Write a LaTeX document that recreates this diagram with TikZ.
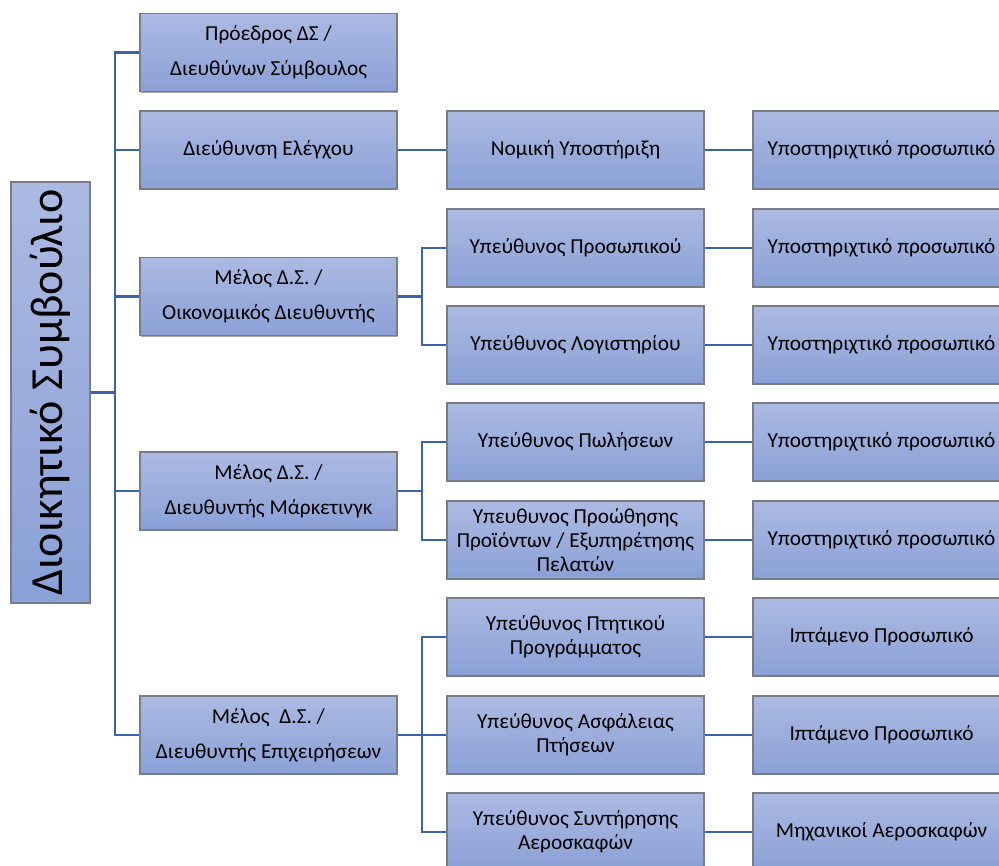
\documentclass[tikz,border=0pt]{standalone}
\usepackage{fontspec}
\setmainfont{Carlito}
\usetikzlibrary{shadows}
\definecolor{boxtop}{RGB}{172,186,226}
\definecolor{boxbot}{RGB}{138,160,214}
\definecolor{boxline}{RGB}{120,124,134}
\definecolor{conncol}{RGB}{58,98,174}
\tikzset{
  orgbox/.style={rectangle, draw=boxline, line width=0.9pt, top color=boxtop, bottom color=boxbot,
    minimum width=192.75pt, minimum height=58.5pt, inner sep=2pt, align=center,
    font=\fontsize{16}{18}\selectfont, text=black,
    drop shadow={shadow xshift=0.8pt, shadow yshift=-0.8pt, opacity=0.35, fill=black}},
  wide/.style={font=\fontsize{16}{26}\selectfont},
  rootbox/.style={orgbox, minimum width=315.75pt, minimum height=59.25pt, rotate=90,
    font=\fontsize{34.5}{38}\selectfont},
  conn/.style={draw=conncol, line width=2pt}
}
\begin{document}
\begin{tikzpicture}[x=0.75pt,y=-0.75pt]
\useasboundingbox (0,0) rectangle (999,866);
\clip (0,0) rectangle (999,866);
% root
\node[rootbox] (root) at (50.5,392.5) {Διοικητικό Συμβούλιο};
% column 1
\node[orgbox,wide] (c11) at (268.5,52.5) {Πρόεδρος ΔΣ /\\Διευθύνων Σύμβουλος};
\node[orgbox] (c12) at (268.5,150) {Διεύθυνση Ελέγχου};
\node[orgbox,wide] (c13) at (268.5,296.5) {Μέλος Δ.Σ. /\\Οικονομικός Διευθυντής};
\node[orgbox,wide] (c14) at (268.5,491) {Μέλος Δ.Σ. /\\Διευθυντής Μάρκετινγκ};
\node[orgbox,wide] (c15) at (268.5,735) {Μέλος\ \ Δ.Σ. /\\Διευθυντής Επιχειρήσεων};
% column 2
\node[orgbox] (c21) at (575.5,150) {Νομική Υποστήριξη};
\node[orgbox] (c22) at (575.5,248) {Υπεύθυνος Προσωπικού};
\node[orgbox] (c23) at (575.5,345) {Υπεύθυνος Λογιστηρίου};
\node[orgbox] (c24) at (575.5,442) {Υπεύθυνος Πωλήσεων};
\node[orgbox] (c25) at (575.5,540) {Υπευθυνος Προώθησης\\Προϊόντων / Εξυπηρέτησης\\Πελατών};
\node[orgbox] (c26) at (575.5,637) {Υπεύθυνος Πτητικού\\Προγράμματος};
\node[orgbox] (c27) at (575.5,735) {Υπεύθυνος Ασφάλειας\\Πτήσεων};
\node[orgbox] (c28) at (575.5,832) {Υπεύθυνος Συντήρησης\\Αεροσκαφών};
% column 3
\node[orgbox] (c31) at (881.5,150) {Υποστηριχτικό προσωπικό};
\node[orgbox] (c32) at (881.5,248) {Υποστηριχτικό προσωπικό};
\node[orgbox] (c33) at (881.5,345) {Υποστηριχτικό προσωπικό};
\node[orgbox] (c34) at (881.5,442) {Υποστηριχτικό προσωπικό};
\node[orgbox] (c35) at (881.5,540) {Υποστηριχτικό προσωπικό};
\node[orgbox] (c36) at (881.5,637) {Ιπτάμενο Προσωπικό};
\node[orgbox] (c37) at (881.5,735) {Ιπτάμενο Προσωπικό};
\node[orgbox] (c38) at (881.5,832) {Μηχανικοί Αεροσκαφών};
% connectors
\coordinate (trunk) at (115,392.5);
\foreach \n in {c11,c12,c13,c14,c15} {\draw[conn] (root.south) -- (trunk) |- (\n.west);}
\draw[conn] (c12.east) -- (c21.west);
\coordinate (b3) at (422,296.5);
\draw[conn] (c13.east) -- (b3) |- (c22.west);
\draw[conn] (b3) |- (c23.west);
\coordinate (b4) at (422,491);
\draw[conn] (c14.east) -- (b4) |- (c24.west);
\draw[conn] (b4) |- (c25.west);
\coordinate (b5) at (422,735);
\draw[conn] (c15.east) -- (c27.west);
\draw[conn] (b5) |- (c26.west);
\draw[conn] (b5) |- (c28.west);
\draw[conn] (c21.east) -- (c31.west);
\draw[conn] (c22.east) -- (c32.west);
\draw[conn] (c23.east) -- (c33.west);
\draw[conn] (c24.east) -- (c34.west);
\draw[conn] (c25.east) -- (c35.west);
\draw[conn] (c26.east) -- (c36.west);
\draw[conn] (c27.east) -- (c37.west);
\draw[conn] (c28.east) -- (c38.west);
\end{tikzpicture}
\end{document}
